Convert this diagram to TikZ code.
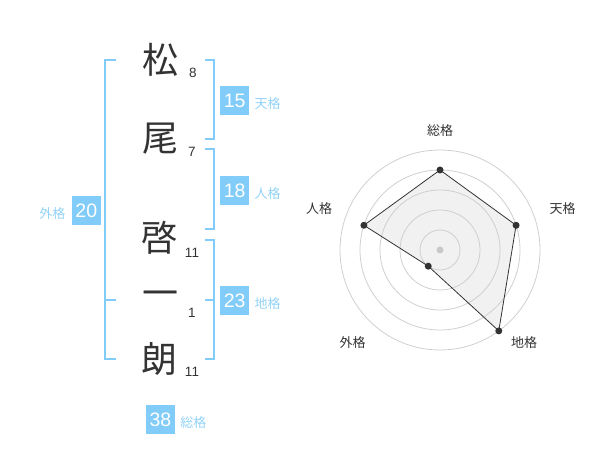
\documentclass[tikz,border=0pt]{standalone}
\usepackage{fontspec}
\setmainfont{Liberation Sans}
\newfontfamily\jp{Noto Sans CJK JP}
\usepackage{tikz}
\usetikzlibrary{positioning}

\definecolor{kakuBlue}{HTML}{82CCF9}
\definecolor{kakuText}{HTML}{92D2F7}
\definecolor{inkGray}{HTML}{333333}
\definecolor{ringGray}{HTML}{CFCFCF}
\definecolor{radarFill}{HTML}{F1F1F1}
\definecolor{centerGray}{HTML}{C8C8C8}

\begin{document}
\begin{tikzpicture}[x=1pt, y=-1pt,
    kanji/.style={font=\jp\fontsize{36}{36}\selectfont, text=inkGray, inner sep=0pt},
    strokeNum/.style={font=\fontsize{13.5}{13.5}\selectfont, text=inkGray, inner sep=0pt},
    kakuBox/.style={fill=kakuBlue, text=white, minimum size=29pt, inner sep=0pt, font=\fontsize{19.5}{19.5}\selectfont},
    kakuLabel/.style={font=\jp\fontsize{13}{13}\selectfont, text=kakuText, inner sep=0pt},
    bracket/.style={draw=kakuBlue, line width=1.8pt},
    radarLabel/.style={font=\jp\fontsize{13}{13}\selectfont, text=inkGray, inner sep=0pt}]
    \useasboundingbox (0,0) rectangle (600,470);

    \node[kanji] (matsu) at (160,60) {松};
    \node[kanji] (o) at (160,139) {尾};
    \node[kanji] (kei) at (159,238) {啓};
    \node[kanji] (ichi) at (160,298.5) {一};
    \node[kanji] (rou) at (159,359.5) {朗};

    \node[strokeNum] (matsuN) at (193,73) {8};
    \node[strokeNum] (oN) at (192,152) {7};
    \node[strokeNum] (keiN) at (192,253) {11};
    \node[strokeNum] (ichiN) at (192,312.5) {1};
    \node[strokeNum] (rouN) at (192,372) {11};

    \draw[bracket] (116,60) -- (105,60) -- (105,359) -- (116,359);
    \draw[bracket] (105,300) -- (116,300);
    \draw[bracket] (205,60) -- (214,60) -- (214,139) -- (205,139);
    \draw[bracket] (205,149) -- (214,149) -- (214,229) -- (205,229);
    \draw[bracket] (205,240) -- (214,240) -- (214,359) -- (205,359);
    \draw[bracket] (205,300) -- (214,300);

    \node[kakuBox] (ten) at (234.7,100.5) {15};
    \node[kakuLabel, right=5pt of ten, yshift=-3pt] (tenL) {天格};
    \node[kakuBox] (jin) at (234.7,190.5) {18};
    \node[kakuLabel, right=5pt of jin, yshift=-3pt] (jinL) {人格};
    \node[kakuBox] (gai) at (86.3,210.5) {20};
    \node[kakuLabel, left=6pt of gai, yshift=-3pt] (gaiL) {外格};
    \node[kakuBox] (chi) at (234.7,300.5) {23};
    \node[kakuLabel, right=5pt of chi, yshift=-3pt] (chiL) {地格};
    \node[kakuBox] (sou) at (160.5,419.5) {38};
    \node[kakuLabel, right=5pt of sou, yshift=-3pt] (souL) {総格};

    \begin{scope}[shift={(440,250)}]
        \coordinate (souP) at (-90:80);
        \coordinate (tenP) at (-18:80);
        \coordinate (chiP) at (54:100);
        \coordinate (gaiP) at (126:20);
        \coordinate (jinP) at (198:80);

        \fill[radarFill] (souP) -- (tenP) -- (chiP) -- (gaiP) -- (jinP) -- cycle;
        \foreach \r in {20,40,...,100}
            \draw[ringGray, line width=0.8pt] (0,0) circle[radius=\r pt];
        \draw[inkGray, line width=0.8pt] (souP) -- (tenP) -- (chiP) -- (gaiP) -- (jinP) -- cycle;
        \foreach \p in {souP,tenP,chiP,gaiP,jinP}
            \fill[inkGray] (\p) circle[radius=3.5pt];
        \fill[centerGray] (0,0) circle[radius=3.5pt];
    \end{scope}

    \node[radarLabel] (souR) at (440,131) {総格};
    \node[radarLabel] (tenR) at (562.5,209) {天格};
    \node[radarLabel] (jinR) at (319,209) {人格};
    \node[radarLabel] (gaiR) at (352.5,342.5) {外格};
    \node[radarLabel] (chiR) at (524,342.5) {地格};
\end{tikzpicture}
\end{document}
